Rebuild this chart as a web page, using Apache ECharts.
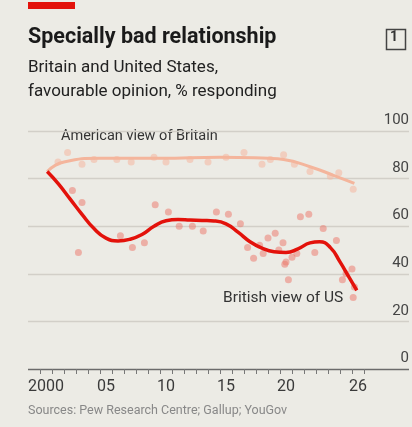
<!DOCTYPE html>
<html><head><meta charset="utf-8">
<script src="https://cdn.jsdelivr.net/npm/echarts@6/dist/echarts.min.js"></script>
<style>html,body{margin:0;padding:0;background:#ecebe5}#c{width:412px;height:427px}</style>
</head><body><div id="c"></div>
<script>
// ---- data ----
const tickYears = [];
for (let y = 2000; y <= 2026; y++) tickYears.push(String(y));
const shownYearLabels = {"2000":"2000","2005":"05","2010":"10","2015":"15","2020":"20","2026":"26"};
const yTicks = [0, 20, 40, 60, 80, 100];

// American view of Britain: smoothed trend
const amTrendYears  = [2000.6, 2002, 2005, 2010, 2015, 2019, 2020.3, 2022.5, 2024.4, 2026.2];
const amTrendValues = [83, 87, 88.5, 88.5, 89, 88.5, 88, 85, 81.5, 78];
// American view of Britain: polls
const amPollYears  = [2001.5, 2002.3, 2003.5, 2004.5, 2006.4, 2007.6, 2009.5, 2010.5, 2012.5, 2014, 2015.5, 2017, 2018.5, 2019.2, 2020.3, 2021.2, 2022.5, 2024.2, 2024.9, 2026.1];
const amPollValues = [87, 91, 86, 88, 88, 87, 89, 87, 88, 87, 89, 91, 86, 88, 90, 86, 83, 81, 82.5, 75.5];

// British view of US: smoothed trend
const brTrendYears  = [2000.6, 2001.5, 2002.5, 2003.5, 2004.5, 2005.5, 2006.5, 2007.5, 2008.5, 2009.5, 2010.5, 2011.5, 2012.5, 2013.5, 2014.5, 2015.5, 2016.5, 2017.5, 2018.5, 2019.5, 2020.5, 2021.5, 2022.5, 2023.3, 2024.2, 2025, 2025.7, 2026.4];
const brTrendValues = [83, 78, 71.5, 65, 59, 55, 53.8, 54.5, 56.5, 60, 62.3, 62.8, 62.6, 62.4, 62.2, 61, 57.5, 53.5, 50.8, 49.3, 49, 50.5, 53, 53.5, 51, 45, 39, 33];
// British view of US: polls
const brPollYears  = [2002.7, 2003.5, 2003.2, 2006.7, 2007.7, 2008.7, 2009.6, 2010.7, 2011.6, 2012.7, 2013.6, 2014.7, 2015.7, 2016.7, 2017.3, 2017.8, 2018.3, 2018.6, 2019.0, 2019.6, 2019.9, 2020.25, 2020.4, 2020.7, 2020.5, 2021.0, 2021.4, 2021.7, 2022.4, 2022.9, 2023.6, 2024.7, 2025.2, 2025.5, 2026.0, 2026.2, 2026.1];
const brPollValues = [75, 70, 49, 56, 51, 53, 69, 66, 60, 60, 58, 66, 65, 61, 51, 46.5, 52, 48.5, 55, 57, 50, 53, 44, 37.5, 45, 47, 48.5, 64, 65, 49, 59, 54, 37.5, 40, 42, 34.5, 30];

const zip = (xs, ys) => xs.map((x, i) => [x, ys[i]]);
const FONT = 'Roboto';
const BG = '#ecebe5';

const chart = echarts.init(document.getElementById('c'), null, {renderer: 'canvas'});
chart.setOption({
  backgroundColor: BG,
  animation: false,
  textStyle: {fontFamily: FONT},
  grid: [
    {left: 28, right: 2, top: 131, bottom: 58},
    {left: 40, right: 48, top: 131, bottom: 58}
  ],
  xAxis: [
    {gridIndex: 0, type: 'value', min: 0, max: 1, show: false},
    {gridIndex: 1, type: 'category', data: tickYears, boundaryGap: true, position: 'bottom',
     axisLine: {show: false},
     axisTick: {show: true, interval: 0, length: 5, lineStyle: {color: '#777', width: 1}},
     axisLabel: {interval: (i, v) => v in shownYearLabels, formatter: v => shownYearLabels[v] || '',
                 color: '#3a3a3a', fontSize: 16, margin: 10, fontFamily: FONT}},
    {gridIndex: 1, type: 'value', min: 2000, max: 2027, show: false}
  ],
  yAxis: [
    {gridIndex: 0, type: 'value', position: 'right', min: 0, max: 100, interval: 20,
     axisLine: {show: false}, axisTick: {show: false},
     axisLabel: {inside: true, margin: 0, color: '#444', fontSize: 15, verticalAlign: 'bottom',
                 padding: [0, 0, 3, 0], fontFamily: FONT},
     splitLine: {lineStyle: {color: ['#6b6b6b', '#d2cfc8', '#d2cfc8', '#d2cfc8', '#d2cfc8', '#d2cfc8'], width: 1.3}}},
    {gridIndex: 1, type: 'value', min: 0, max: 100, show: false}
  ],
  series: [
    {type: 'scatter', xAxisIndex: 2, yAxisIndex: 1, data: zip(amPollYears, amPollValues),
     symbolSize: 7, itemStyle: {color: 'rgba(244,184,160,0.7)'}},
    {type: 'scatter', xAxisIndex: 2, yAxisIndex: 1, data: zip(brPollYears, brPollValues),
     symbolSize: 7, itemStyle: {color: 'rgba(236,120,108,0.65)'}},
    {type: 'line', xAxisIndex: 2, yAxisIndex: 1, data: zip(amTrendYears, amTrendValues),
     smooth: 0.5, showSymbol: false, lineStyle: {color: '#f4b59c', width: 3}},
    {type: 'line', xAxisIndex: 2, yAxisIndex: 1, data: zip(brTrendYears, brTrendValues),
     smooth: 0.5, showSymbol: false, lineStyle: {color: '#e3120b', width: 3.5}}
  ],
  graphic: [
    {type: 'rect', left: 28, top: 2, shape: {width: 47, height: 7}, style: {fill: '#e3120b'}},
    {type: 'text', left: 28, top: 27, style: {text: 'Specially bad relationship', font: `bold 21.5px ${FONT}`, fill: '#1a1a1a'}},
    {type: 'rect', left: 384, top: 27, shape: {width: 19, height: 20}, style: {fill: 'none', stroke: '#444', lineWidth: 1.5}},
    {type: 'text', left: 390, top: 30, style: {text: '1', font: `bold 14px ${FONT}`, fill: '#333'}},
    {type: 'text', left: 28, top: 59, style: {text: 'Britain and United States,', font: `17px ${FONT}`, fill: '#222'}},
    {type: 'text', left: 28, top: 83, style: {text: 'favourable opinion, % responding', font: `17px ${FONT}`, fill: '#222'}},
    {type: 'text', left: 55, top: 129, style: {text: 'American view of Britain', font: `14.5px ${FONT}`, fill: '#333',
      backgroundColor: BG, padding: [0, 4, 0, 6]}},
    {type: 'text', left: 223, top: 290, style: {text: 'British view of US', font: `15.5px ${FONT}`, fill: '#333'}},
    {type: 'text', left: 28, top: 404, style: {text: 'Sources: Pew Research Centre; Gallup; YouGov', font: `12.5px ${FONT}`, fill: '#888'}}
  ]
});
</script></body></html>
